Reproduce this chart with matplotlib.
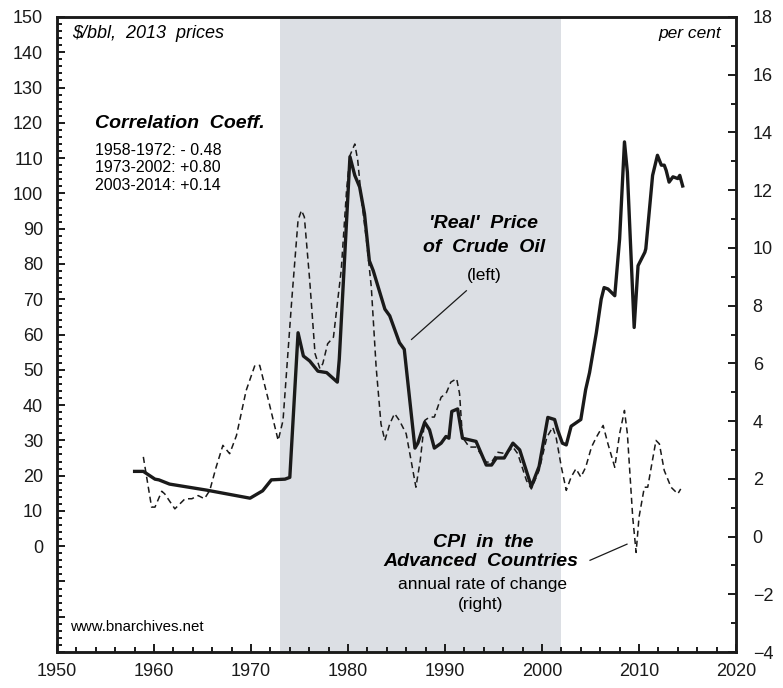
import matplotlib
matplotlib.use("Agg")
from matplotlib import pyplot as plt
from matplotlib.ticker import MultipleLocator

# 'real' crude oil price, $/bbl in 2013 prices (left axis)
oil_years = [1958.0, 1958.9, 1960.1, 1960.5, 1961.6, 1965.4, 1969.9, 1971.2,
             1972.1, 1973.5, 1974.0, 1974.85, 1975.4, 1976.05, 1976.9, 1977.8,
             1978.9, 1979.1, 1980.2, 1980.7, 1981.2, 1981.7, 1982.2, 1982.6,
             1983.8, 1984.3, 1985.3, 1985.8, 1986.9, 1987.2, 1987.9, 1988.4,
             1988.9, 1989.6, 1990.1, 1990.4, 1990.7, 1991.3, 1991.8, 1993.2,
             1994.25, 1994.8, 1995.3, 1996.1, 1997.0, 1997.7, 1998.9, 1999.7,
             2000.6, 2001.3, 2001.6, 2002.1, 2002.5, 2003.0, 2004.0, 2004.5,
             2004.9, 2005.6, 2006.1, 2006.4, 2006.8, 2007.5, 2008.0, 2008.5,
             2008.8, 2009.5, 2009.9, 2010.6, 2010.7, 2011.4, 2011.9, 2012.3,
             2012.6, 2012.8, 2013.1, 2013.5, 2014.0, 2014.2, 2014.5]
oil_price = [21.2, 21.2, 19.0, 18.8, 17.6, 15.9, 13.6, 15.7,
             18.8, 19.0, 19.5, 60.5, 53.9, 52.5, 49.6, 49.2,
             46.5, 53.0, 110.4, 105.1, 101.8, 94.2, 80.9, 78.1,
             67.2, 65.3, 57.7, 55.8, 27.8, 29.2, 35.1, 33.0,
             27.8, 29.2, 31.1, 30.6, 38.2, 38.9, 30.6, 29.7,
             23.0, 23.0, 25.0, 25.0, 29.2, 27.3, 16.9, 22.6,
             36.5, 35.9, 33.0, 29.2, 28.7, 34.0, 35.9, 44.4,
             49.2, 60.5, 70.0, 73.3, 72.9, 71.0, 87.1, 114.6,
             106.0, 62.0, 79.5, 83.3, 84.3, 105.1, 110.8, 108.0,
             108.0, 106.5, 103.2, 104.7, 104.2, 105.1, 102.1]

# CPI in the advanced countries, annual % change (right axis)
cpi_years = [1958.9, 1959.75, 1960.1, 1960.8, 1961.1, 1962.15, 1963.2, 1963.9,
             1964.55, 1965.2, 1965.75, 1966.4, 1967.1, 1967.8, 1968.5, 1969.5,
             1970.4, 1970.9, 1971.8, 1972.8, 1973.3, 1974.2, 1974.85, 1975.2,
             1975.5, 1976.05, 1976.6, 1977.1, 1977.4, 1977.9, 1978.5, 1979.3,
             1979.85, 1980.2, 1980.7, 1981.0, 1981.4, 1981.9, 1982.4, 1982.9,
             1983.4, 1983.8, 1984.3, 1984.8, 1985.3, 1986.0, 1986.5, 1987.0,
             1987.45, 1987.9, 1988.4, 1988.9, 1989.6, 1990.1, 1990.6, 1991.2,
             1991.5, 1991.8, 1992.5, 1993.2, 1994.25, 1994.8, 1995.45, 1996.3,
             1997.0, 1997.5, 1998.4, 1998.9, 1999.7, 2000.5, 2001.1, 2001.45,
             2002.0, 2002.5, 2003.0, 2003.5, 2004.0, 2004.5, 2005.1, 2005.6,
             2006.3, 2006.8, 2007.5, 2008.0, 2008.5, 2008.8, 2009.35, 2009.7,
             2010.0, 2010.55, 2010.9, 2011.2, 2011.75, 2012.1, 2012.6, 2013.3,
             2014.0, 2014.3]
cpi_change = [2.76, 1.02, 1.02, 1.57, 1.48, 0.96, 1.31, 1.31,
              1.42, 1.31, 1.6, 2.4, 3.16, 2.87, 3.5, 5.06,
              5.93, 5.93, 4.72, 3.33, 4.02, 8.19, 10.96, 11.3,
              11.07, 8.88, 6.34, 5.82, 5.99, 6.68, 6.91, 9.23,
              12.0, 13.2, 13.6, 13.04, 11.65, 10.27, 8.65, 5.87,
              3.9, 3.33, 3.9, 4.26, 4.02, 3.56, 2.64, 1.71,
              2.64, 4.02, 4.14, 4.14, 4.83, 4.95, 5.35, 5.47,
              4.95, 3.44, 3.1, 3.1, 2.58, 2.58, 2.92, 2.87,
              3.1, 2.87, 1.94, 1.65, 2.29, 3.44, 3.79, 3.44,
              2.4, 1.6, 2.06, 2.35, 2.06, 2.4, 3.1, 3.44,
              3.85, 3.21, 2.4, 3.56, 4.37, 3.56, 0.67, -0.55,
              0.67, 1.71, 1.71, 2.29, 3.33, 3.21, 2.29, 1.71,
              1.48, 1.65]

shade_period = (1973, 2002)
left_ticks = list(range(-30, 151, 10))
left_labels = ['' if v < 0 else str(v) for v in left_ticks]
right_ticks = list(range(-4, 19, 2))
right_labels = [('\u2212' + str(-v)) if v < 0 else str(v)
                for v in right_ticks]
x_ticks = list(range(1950, 2021, 10))

plt.rcParams['font.family'] = ['Liberation Sans', 'DejaVu Sans']

fig = plt.figure(figsize=(7.83, 6.88), dpi=100)
ax = fig.add_axes([0.0728, 0.0523, 0.8672, 0.923])
ax2 = ax.twinx()

ax.axvspan(*shade_period, color='#dcdfe4', lw=0, zorder=0)
ax.plot(oil_years, oil_price, color='#1a1a1a', lw=2.4, zorder=3,
        solid_joinstyle='round')
ax2.plot(cpi_years, cpi_change, color='#1a1a1a', lw=1.1, dashes=(4, 2.6),
         zorder=3)

ax.set_xlim(1950, 2020)
ax.set_ylim(-30, 150)
ax2.set_ylim(-4, 18)

ax.set_xticks(x_ticks)
ax.set_xticklabels([str(v) for v in x_ticks])
ax.xaxis.set_minor_locator(MultipleLocator(2))
ax.set_yticks(left_ticks)
ax.set_yticklabels(left_labels)
ax.yaxis.set_minor_locator(MultipleLocator(2))
ax2.set_yticks(right_ticks)
ax2.set_yticklabels(right_labels)
ax2.yaxis.set_minor_locator(MultipleLocator(1))

for a in (ax, ax2):
    for s in a.spines.values():
        s.set_linewidth(1.8)
        s.set_color('#1a1a1a')
    a.tick_params(which='both', direction='in', width=1.4, colors='#1a1a1a',
                  labelsize=13, top=False)
    a.tick_params(which='major', length=6)
    a.tick_params(which='minor', length=3.5)
ax.tick_params(axis='y', which='both', right=False, pad=10)
ax.tick_params(axis='x', which='both', pad=8)
ax2.tick_params(axis='y', which='both', left=False, pad=12)
ax.set_zorder(ax2.get_zorder() - 1)
ax2.patch.set_visible(False)

ax.text(1951.55, 145.2, '$/bbl,  2013  prices', fontsize=13, style='italic',
        ha='left', va='center')
ax.text(2018.5, 145.2, 'per cent', fontsize=12.5, style='italic',
        ha='right', va='center')

ax.text(1953.9, 119.8, 'Correlation  Coeff.', fontsize=14, style='italic',
        weight='bold', ha='left', va='center')
corr = ['1958-1972: - 0.48', '1973-2002: +0.80', '2003-2014: +0.14']
for i, line in enumerate(corr):
    ax.text(1953.9, 112.2 - i * 4.95, line, fontsize=11.5,
            ha='left', va='center')

ax.text(1994.0, 91.4, "'Real'  Price", fontsize=14, style='italic',
        weight='bold', ha='center', va='center')
ax.text(1994.0, 84.8, 'of  Crude  Oil', fontsize=14, style='italic',
        weight='bold', ha='center', va='center')
ax.text(1994.0, 76.6, '(left)', fontsize=12.5, ha='center', va='center')
ax.plot([1992.2, 1986.55], [72.4, 58.6], color='#1a1a1a', lw=0.9)

ax.text(1993.9, 1.1, 'CPI  in  the', fontsize=14, style='italic',
        weight='bold', ha='center', va='center')
ax.text(1993.7, -4.3, 'Advanced  Countries', fontsize=14, style='italic',
        weight='bold', ha='center', va='center')
ax.text(1993.9, -10.8, 'annual rate of change', fontsize=12.5,
        ha='center', va='center')
ax.text(1993.7, -16.5, '(right)', fontsize=12.5, ha='center', va='center')
ax.plot([2004.95, 2008.76], [-4.0, 0.57], color='#1a1a1a', lw=0.9)

ax.text(1951.3, -23, 'www.bnarchives.net', fontsize=10.8,
        ha='left', va='center')

plt.savefig('out.png', dpi=100)
